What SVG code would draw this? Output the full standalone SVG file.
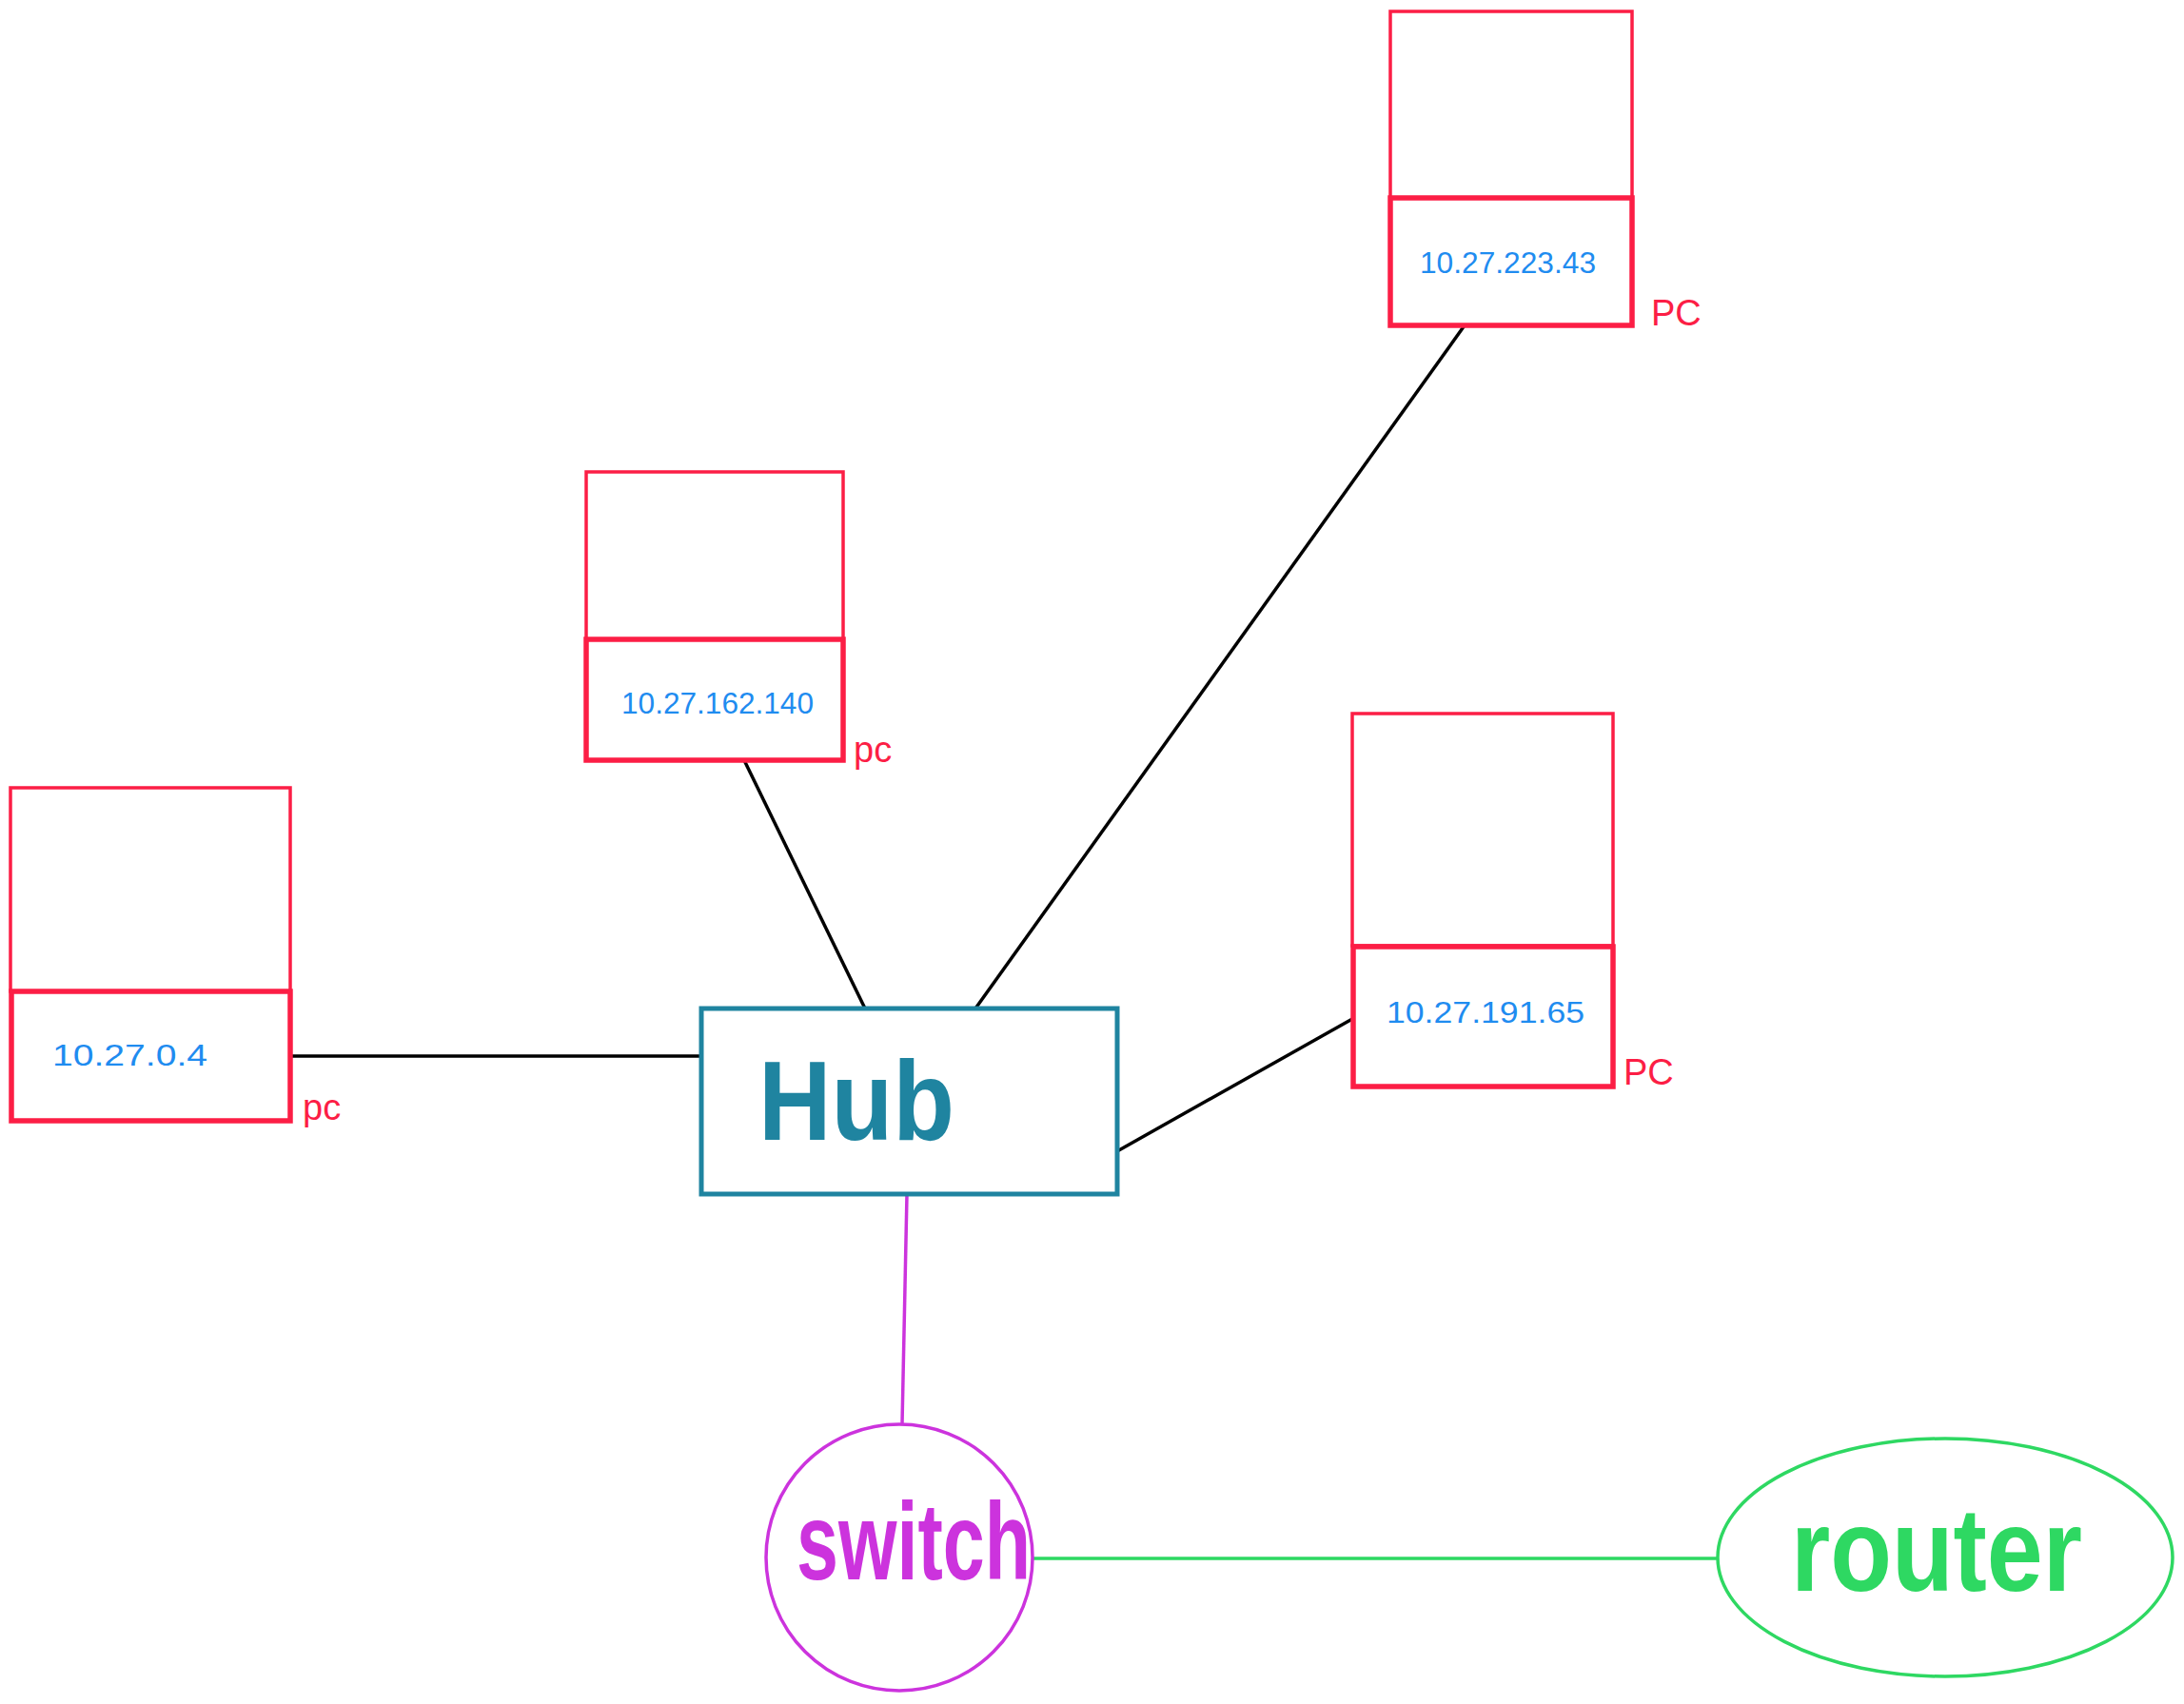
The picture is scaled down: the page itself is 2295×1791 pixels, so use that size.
<svg xmlns="http://www.w3.org/2000/svg" width="2295" height="1791" viewBox="0 0 2295 1791">
<style>
.top{fill:none;stroke:#fc1e45;stroke-width:3.5}
.bot{fill:none;stroke:#fc1e45;stroke-width:5.5}
.ip{font-family:"Liberation Sans",sans-serif;font-size:32px;fill:#1f8cf0}
.pc{font-family:"Liberation Sans",sans-serif;font-size:38px;fill:#fc1e45}
.wire{stroke:#000;stroke-width:3.5;fill:none}
.big{font-family:"Liberation Sans",sans-serif;font-weight:bold}
</style>
<rect width="2295" height="1791" fill="#fff"/>
<g id="connectors">
<line class="wire" x1="305" y1="1110" x2="737" y2="1110"/>
<line class="wire" x1="782" y1="799" x2="909" y2="1060"/>
<line class="wire" x1="1025" y1="1060" x2="1539" y2="342"/>
<line class="wire" x1="1174" y1="1210" x2="1421" y2="1071"/>
<line x1="953" y1="1255" x2="948" y2="1497" stroke="#cc33dd" stroke-width="3.5"/>
<line x1="1086" y1="1638" x2="1805" y2="1638" stroke="#2ed862" stroke-width="3.5"/>
</g>
<g id="pc1">
<rect class="top" x="11" y="828" width="294" height="214"/>
<rect class="bot" x="12" y="1042" width="293" height="136"/>
<text class="ip" x="55" y="1120" textLength="163" lengthAdjust="spacingAndGlyphs">10.27.0.4</text>
<text class="pc" x="318" y="1177">pc</text>
</g>
<g id="pc2">
<rect class="top" x="616" y="496" width="270" height="176"/>
<rect class="bot" x="616" y="672" width="270" height="127"/>
<text class="ip" x="653" y="750" textLength="202" lengthAdjust="spacingAndGlyphs">10.27.162.140</text>
<text class="pc" x="897" y="801">pc</text>
</g>
<g id="pc3">
<rect class="top" x="1461" y="12" width="254" height="196"/>
<rect class="bot" x="1461" y="208" width="254" height="134"/>
<text class="ip" x="1492" y="287" textLength="185" lengthAdjust="spacingAndGlyphs">10.27.223.43</text>
<text class="pc" x="1735" y="342">PC</text>
</g>
<g id="pc4">
<rect class="top" x="1421" y="750" width="274" height="244"/>
<rect class="bot" x="1422" y="995" width="273" height="147"/>
<text class="ip" x="1457" y="1075" textLength="208" lengthAdjust="spacingAndGlyphs">10.27.191.65</text>
<text class="pc" x="1706" y="1140">PC</text>
</g>
<g id="hub">
<rect x="737" y="1060" width="437" height="195" fill="none" stroke="#1f84a0" stroke-width="5"/>
<text class="big" x="797" y="1198" font-size="118" fill="#1f84a0" textLength="206" lengthAdjust="spacingAndGlyphs">Hub</text>
</g>
<g id="switch">
<circle cx="945" cy="1637" r="140" fill="none" stroke="#cc33dd" stroke-width="3.5"/>
<text class="big" x="837" y="1660" font-size="115" fill="#cc33dd" textLength="246" lengthAdjust="spacingAndGlyphs">switch</text>
</g>
<g id="router">
<ellipse cx="2044" cy="1637" rx="239" ry="125" fill="none" stroke="#2ed862" stroke-width="3.5"/>
<text class="big" x="1882" y="1672" font-size="125" fill="#2ed862" textLength="306" lengthAdjust="spacingAndGlyphs">router</text>
</g>
</svg>
